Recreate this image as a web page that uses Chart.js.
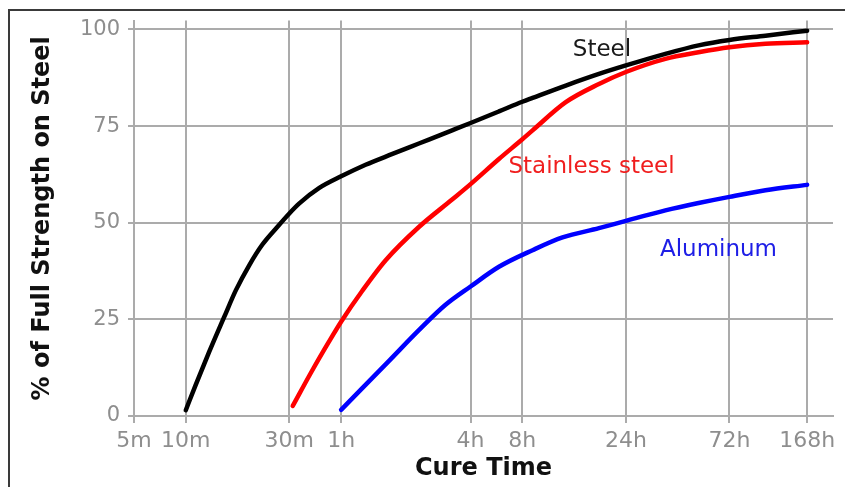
<!DOCTYPE html>
<html>
<head>
<meta charset="utf-8">
<script src="https://cdn.jsdelivr.net/npm/chart.js@4.4.1/dist/chart.umd.min.js"></script>
<style>
  html, body { margin: 0; padding: 0; background: #ffffff; }
  #wrap { position: relative; width: 845px; height: 487px; overflow: hidden; }
  #frame { position: absolute; left: 8px; top: 9px; width: 900px; height: 600px;
           border-top: 2px solid #3a3a3a; border-left: 2px solid #3a3a3a; }
  canvas { position: absolute; left: 0; top: 0; }
</style>
</head>
<body>
<div id="wrap">
  <div id="frame"></div>
  <canvas id="c" width="845" height="487"></canvas>
</div>
<script>
// ---- x axis: cure time ticks (minutes), their slots on the chart's hand-spaced time axis ----
const xTickValues = [5, 10, 30, 60, 240, 480, 1440, 4320, 10080];
const xTickLabels = ['5m', '10m', '30m', '1h', '4h', '8h', '24h', '72h', '168h'];
const xTickSlots  = [0, 2, 6, 8, 13, 15, 19, 23, 26];
const xSlotMax = 27;
const yTickValues = [0, 25, 50, 75, 100];

// ---- series (x = minutes, y = % of full strength on steel) ----
const steelX = [10, 11.1, 12.8, 15, 17, 19.6, 22.5, 26.4, 30, 34.3, 44.8, 60, 78, 104, 138, 197, 240, 351, 480, 535, 761, 1082, 1440, 2190, 3113, 4320, 6400, 10080];
const steelY = [1.5, 8.0, 16.5, 25.5, 32.5, 39.0, 44.3, 48.9, 52.4, 55.0, 59.0, 62.0, 65.0, 67.8, 70.5, 73.9, 75.8, 78.8, 81.3, 82.3, 85.5, 88.5, 90.7, 93.7, 95.9, 97.3, 98.4, 99.7];

const stainlessX = [31.4, 40.9, 51.1, 60, 75.3, 96.7, 138, 197, 240, 351, 480, 535, 761, 1082, 1440, 2190, 3113, 4320, 6400, 10080];
const stainlessY = [2.6, 11.9, 19.3, 24.4, 32.4, 40.3, 48.9, 56.0, 60.0, 66.5, 71.6, 73.9, 81.2, 85.9, 89.0, 92.4, 94.1, 95.4, 96.3, 96.7];

const aluminumX = [60, 75.3, 100, 138, 183, 240, 351, 535, 735, 1082, 1440, 2190, 3113, 4320, 6400, 10080];
const aluminumY = [1.6, 7.2, 14.2, 22.2, 28.7, 33.5, 38.6, 42.9, 46.2, 48.6, 50.5, 53.2, 55.1, 56.7, 58.4, 59.8];

// ---- in-plot series labels (minutes, %) ----
const seriesNames = ['Steel', 'Stainless steel', 'Aluminum'];
const labelX = [1117, 1000, 3845];
const labelY = [94.6, 64.3, 42.9];
const seriesColors = ['#000000', '#ff0000', '#0000ff'];
const labelColors = ['#1a1a1a', '#f01e1e', '#1e1ee6'];

// minutes -> slot on the time axis (log interpolation between neighbouring ticks)
function toSlot(m) {
  const v = xTickValues, s = xTickSlots;
  let i = 0;
  while (i < v.length - 2 && m > v[i + 1]) i++;
  return s[i] + (s[i + 1] - s[i]) * Math.log(m / v[i]) / Math.log(v[i + 1] / v[i]);
}
function pts(xs, ys) { return xs.map((x, i) => ({ x: toSlot(x), y: ys[i] })); }

const labelPlugin = {
  id: 'seriesLabels',
  afterDatasetsDraw(chart) {
    const ctx = chart.ctx;
    const xs = chart.scales.x, ys = chart.scales.y;
    ctx.save();
    ctx.font = '23px "DejaVu Sans"';
    ctx.textAlign = 'center';
    ctx.textBaseline = 'middle';
    seriesNames.forEach((name, i) => {
      ctx.fillStyle = labelColors[i];
      ctx.fillText(name, xs.getPixelForValue(toSlot(labelX[i])), ys.getPixelForValue(labelY[i]));
    });
    ctx.restore();
  }
};

const gridColor = '#ababab';
const tickColor = '#8e8e8e';

new Chart(document.getElementById('c'), {
  type: 'line',
  data: {
    datasets: [
      { label: seriesNames[0], data: pts(steelX, steelY) },
      { label: seriesNames[1], data: pts(stainlessX, stainlessY) },
      { label: seriesNames[2], data: pts(aluminumX, aluminumY) }
    ].map((d, i) => Object.assign(d, {
      borderColor: seriesColors[i],
      backgroundColor: seriesColors[i],
      borderWidth: 4.5,
      pointRadius: 0,
      borderCapStyle: 'round',
      cubicInterpolationMode: 'monotone',
      fill: false
    }))
  },
  options: {
    responsive: false,
    animation: false,
    devicePixelRatio: 1,
    layout: { padding: { left: 0, right: 12, top: 20, bottom: 0 } },
    plugins: { legend: { display: false }, tooltip: { enabled: false } },
    scales: {
      x: {
        type: 'linear',
        min: 0,
        max: xSlotMax,
        afterBuildTicks: (s) => { s.ticks = xTickSlots.map(v => ({ value: v })); },
        afterFit: (s) => { s.height = 71; },
        ticks: {
          autoSkip: false, maxRotation: 0, minRotation: 0,
          padding: 5,
          color: tickColor,
          font: { family: 'DejaVu Sans', size: 22 },
          callback: (v, i) => xTickLabels[i]
        },
        grid: { color: gridColor, lineWidth: 2, tickLength: 7 },
        border: { color: gridColor, width: 2 },
        title: {
          display: true, text: 'Cure Time', color: '#111111',
          font: { family: 'DejaVu Sans', size: 24, weight: 'bold' },
          padding: { top: 0, bottom: 4 }
        }
      },
      y: {
        min: 0,
        max: 102.3,
        afterBuildTicks: (s) => { s.ticks = yTickValues.map(v => ({ value: v })); },
        afterFit: (s) => { s.width = 134; },
        ticks: {
          padding: 8,
          color: tickColor,
          font: { family: 'DejaVu Sans', size: 21 },
          callback: (v) => String(v)
        },
        grid: { color: gridColor, lineWidth: 2, tickLength: 6 },
        border: { color: gridColor, width: 2 },
        title: {
          display: true, text: '% of Full Strength on Steel', color: '#111111',
          font: { family: 'DejaVu Sans', size: 24, weight: 'bold' },
          padding: { top: 28, bottom: 0 }
        }
      }
    }
  },
  plugins: [labelPlugin]
});
</script>
</body>
</html>
